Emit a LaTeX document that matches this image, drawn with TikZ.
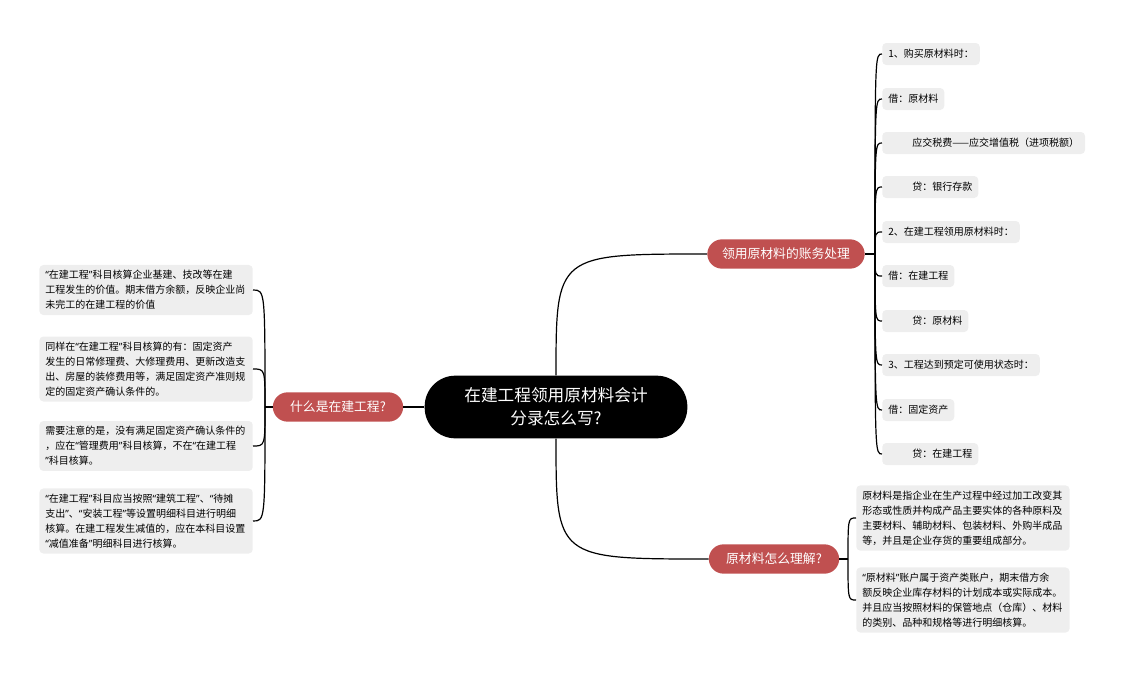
\documentclass[tikz,border=0pt]{standalone}
\usepackage{fontspec}
\setmainfont{Noto Sans CJK SC}
\newfontfamily\quotefont{Noto Sans}
\usetikzlibrary{positioning, calc}
\definecolor{topicred}{RGB}{192,80,80}
\definecolor{itemgray}{RGB}{238,238,238}
\tikzset{
  root/.style  = {rectangle, rounded corners=23pt, fill=black, text=white,
                  minimum width=197pt, minimum height=47pt, align=center,
                  font=\fontsize{12.5pt}{17pt}\selectfont},
  topic/.style = {rectangle, rounded corners=11pt, fill=topicred, text=white,
                  minimum height=22pt, inner xsep=11pt,
                  font=\fontsize{9.6pt}{12pt}\selectfont},
  item/.style  = {rectangle, rounded corners=3pt, fill=itemgray, anchor=west,
                  minimum height=16.5pt, inner xsep=4.5pt, align=left,
                  font=\fontsize{7.5pt}{11.25pt}\selectfont},
  note/.style  = {item, text width=151pt, inner ysep=4pt},
  link/.style  = {draw=black, line width=0.9pt}
}
\newcommand{\ind}{\hspace*{18pt}}
\newcommand{\qo}{{\quotefont “}}
\newcommand{\qc}{{\quotefont ”}}

\begin{document}
\begin{tikzpicture}[x=0.75pt, y=-0.75pt]
  \useasboundingbox (0,0) rectangle (1131,675);
  % centre and main topics
  \node[root]  (root) at (556,407) {在建工程领用原材料会计\\分录怎么写?};
  \node[topic, inner xsep=13pt] (what) at (338,407) {什么是在建工程?};
  \node[topic] (acc)  at (786,254) {领用原材料的账务处理};
  \node[topic, inner xsep=13pt] (raw)  at (774,559) {原材料怎么理解?};
  \draw[link] (root.west) -- (what.east);
  \draw[link] (root.north) .. controls (root.north |- acc.west) .. (acc.west);
  \draw[link] (root.south) .. controls (root.south |- raw.west) .. (raw.west);

  % entries of the account topic
  \node[item] (a1)  at (882,54)  {1、购买原材料时：};
  \node[item] (a2)  at (882,99)  {借：原材料};
  \node[item] (a3)  at (882,143) {\ind 应交税费——应交增值税（进项税额）};
  \node[item] (a4)  at (882,187) {\ind 贷：银行存款};
  \node[item] (a5)  at (882,232) {2、在建工程领用原材料时：};
  \node[item] (a6)  at (882,276) {借：在建工程};
  \node[item] (a7)  at (882,321) {\ind 贷：原材料};
  \node[item] (a8)  at (882,365) {3、工程达到预定可使用状态时：};
  \node[item] (a9)  at (882,410) {借：固定资产};
  \node[item] (a10) at (882,454) {\ind 贷：在建工程};
  \coordinate (accs) at (875,254);
  \draw[link] (acc.east) -- (accs);
  \foreach \n in {a1,a2,a3,a4,a5,a6,a7,a8,a9,a10}
    \draw[link] (accs) .. controls (accs |- \n.west) .. (\n.west);

  % notes of the raw material topic
  \node[note] (r1) at (856,518) {原材料是指企业在生产过程中经过加工改变其\\形态或性质并构成产品主要实体的各种原料及\\主要材料、辅助材料、包装材料、外购半成品\\等，并且是企业存货的重要组成部分。};
  \node[note] (r2) at (856,600) {\qo 原材料\qc 账户属于资产类账户，期末借方余\\额反映企业库存材料的计划成本或实际成本。\\并且应当按照材料的保管地点（仓库）、材料\\的类别、品种和规格等进行明细核算。};
  \coordinate (raws) at (848,559);
  \draw[link] (raw.east) -- (raws);
  \draw[link] (raws) .. controls (raws |- r1.west) .. (r1.west);
  \draw[link] (raws) .. controls (raws |- r2.west) .. (r2.west);

  % notes of the left topic
  \node[note, anchor=east] (w1) at (253,290) {\qo 在建工程\qc 科目核算企业基建、技改等在建\\工程发生的价值。期末借方余额，反映企业尚\\未完工的在建工程的价值};
  \node[note, anchor=east] (w2) at (253,369) {同样在\qo 在建工程\qc 科目核算的有：固定资产\\发生的日常修理费、大修理费用、更新改造支\\出、房屋的装修费用等，满足固定资产准则规\\定的固定资产确认条件的。};
  \node[note, anchor=east] (w3) at (253,446) {需要注意的是，没有满足固定资产确认条件的\\，应在\qo 管理费用\qc 科目核算，不在\qo 在建工程\\\qc 科目核算。};
  \node[note, anchor=east] (w4) at (253,521) {\qo 在建工程\qc 科目应当按照\qo 建筑工程\qc 、\qo 待摊\\支出\qc 、\qo 安装工程\qc 等设置明细科目进行明细\\核算。在建工程发生减值的，应在本科目设置\\\qo 减值准备\qc 明细科目进行核算。};
  \coordinate (whats) at (265,407);
  \draw[link] (what.west) -- (whats);
  \foreach \n in {w1,w2,w3,w4}
    \draw[link] (whats) .. controls (whats |- \n.east) .. (\n.east);
\end{tikzpicture}
\end{document}
